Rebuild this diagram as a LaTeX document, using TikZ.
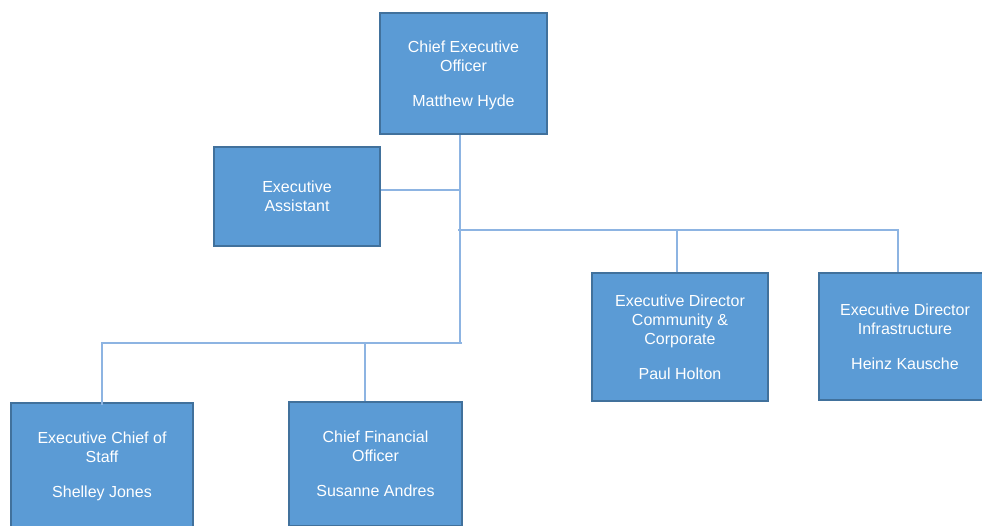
\documentclass[tikz,border=0pt]{standalone}
\usepackage{fontspec}
\setmainfont{Liberation Sans}
\usetikzlibrary{calc}

\definecolor{boxfill}{RGB}{91,155,213}
\definecolor{boxline}{RGB}{65,113,156}
\definecolor{linkline}{RGB}{141,180,226}

\begin{document}
\begin{tikzpicture}[x=1pt, y=-1pt,
    postbox/.style={rectangle, fill=boxfill, draw=boxline, line width=1.5pt,
        text=white, align=center, inner sep=0pt, text depth=-8pt,
        font=\fontsize{16}{19}\selectfont},
    link/.style={draw=linkline, line width=1.4pt}]
    % Fix the page to the size of the reference
    \useasboundingbox (0,0) rectangle (982,525);
    \clip (0,0) rectangle (982,525);

    % Define the boxes of the chart
    \node[postbox, minimum width=167pt, minimum height=121pt] (ceo) at (463.5,73.5)
        {Chief Executive\\Officer\\[16pt]Matthew Hyde};
    \node[postbox, minimum width=166pt, minimum height=99pt] (ea) at (297,196.5)
        {Executive\\Assistant};
    \node[postbox, minimum width=176pt, minimum height=128pt] (edcc) at (680,337)
        {Executive Director\\Community \&\\Corporate\\[16pt]Paul Holton};
    \node[postbox, minimum width=172pt, minimum height=127pt] (edinf) at (905,336.5)
        {Executive Director\\Infrastructure\\[16pt]Heinz Kausche};
    \node[postbox, minimum width=182pt, minimum height=124pt] (ecos) at (102,465)
        {Executive Chief of\\Staff\\[16pt]Shelley Jones};
    \node[postbox, minimum width=173pt, minimum height=124pt] (cfo) at (375.5,464)
        {Chief Financial\\Officer\\[16pt]Susanne Andres};

    % Define junction points on the trunk
    \coordinate (jea) at (460,190);
    \coordinate (jtop) at (458,230);
    \coordinate (jlow) at (462,343);

    % Draw the trunk and the branch to the assistant
    \draw[link] ([xshift=-3.5pt]ceo.south) -- ([xshift=-3.5pt]ceo.south |- jlow);
    \draw[link] (ea.east |- jea) -- (jea);

    % Draw the upper bar with its drops
    \draw[link] (jtop) -| ([xshift=-7pt]edinf.north);
    \draw[link] ([xshift=-3pt]edcc.north) -- ([xshift=-3pt]edcc.north |- jtop);

    % Draw the lower bar with its drops
    \draw[link] (jlow) -| ([yshift=-3pt]ecos.north);
    \draw[link] ([xshift=-10.5pt]cfo.north) -- ([xshift=-10.5pt]cfo.north |- jlow);

\end{tikzpicture}
\end{document}
